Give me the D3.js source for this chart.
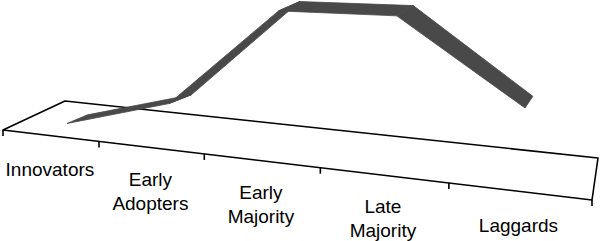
<!DOCTYPE html>
<html>
<head>
<meta charset="utf-8">
<script src="https://cdn.jsdelivr.net/npm/d3@7"></script>
<style>
  body { margin: 0; background: #fff; }
  svg { display: block; }
</style>
</head>
<body>
<div id="chart"></div>
<script>
// adoption curve drawn as a 3D ribbon on a tilted floor

const categories = ["Innovators", "Early Adopters", "Early Majority", "Late Majority", "Laggards"];
const labelLines = [["Innovators"], ["Early", "Adopters"], ["Early", "Majority"], ["Late", "Majority"], ["Laggards"]];
const adoption = [1.7, 11.7, 41.2, 39.5, 17.3];

const width = 600, height = 241;

// floor corners (front-left, front-right, back-left, back-right)
const FL = [3, 130], FR = [592, 200], BL = [65, 101], BR = [598, 158];
const persp = 1.284;

const sFront = u => u / (persp + (1 - persp) * u);
const depthScale = u => persp / Math.pow(persp + (1 - persp) * u, 2);

function floorPt(u, v) {
  const s = sFront(u);
  const fx = FL[0] + (FR[0] - FL[0]) * s, fy = FL[1] + (FR[1] - FL[1]) * s;
  const bx = BL[0] + (BR[0] - BL[0]) * u, by = BL[1] + (BR[1] - BL[1]) * u;
  return [fx + (bx - fx) * v, fy + (by - fy) * v];
}

const u = d3.scaleLinear().domain([0, categories.length]).range([0, 1]);
const yVal = d3.scaleLinear().domain([0, 40]).range([0, 140]);

const svg = d3.select("#chart").append("svg")
  .attr("width", width)
  .attr("height", height);

// floor
const floor = [floorPt(0, 0), floorPt(1, 0), floorPt(1, 1), floorPt(0, 1)];
svg.append("path")
  .attr("d", d3.line()(floor) + "Z")
  .attr("fill", "#fff")
  .attr("stroke", "#000")
  .attr("stroke-width", 1.6)
  .attr("stroke-linejoin", "round");

// ticks on the front edge
svg.selectAll("line.tick")
  .data(d3.range(categories.length + 1))
  .enter().append("line")
  .attr("class", "tick")
  .attr("x1", i => floorPt(u(i), 0)[0])
  .attr("x2", i => floorPt(u(i), 0)[0])
  .attr("y1", i => floorPt(u(i), 0)[1])
  .attr("y2", i => floorPt(u(i), 0)[1] + 6)
  .attr("stroke", "#000")
  .attr("stroke-width", 1.6);

// category labels
const labels = svg.selectAll("text.cat")
  .data(categories)
  .enter().append("text")
  .attr("class", "cat")
  .attr("text-anchor", "middle")
  .style("font-family", "'Liberation Sans', Arial, sans-serif")
  .style("font-size", "19px")
  .attr("fill", "#000")
  .attr("transform", (d, i) => {
    const p = floorPt(u(i + 0.5), 0);
    const dy = labelLines[i].length > 1 ? 38 : 40.5;
    return `translate(${p[0]},${p[1] + dy})`;
  });

labels.selectAll("tspan")
  .data((d, i) => labelLines[i])
  .enter().append("tspan")
  .attr("x", 0)
  .attr("dy", (d, j) => j === 0 ? 0 : 24)
  .text(d => d);

// ribbon: front edge at depth 0.25, back edge at depth 0.55
const ribbonPt = (i, v) => {
  const uu = u(i + 0.5);
  const p = floorPt(uu, v);
  return [p[0], p[1] - yVal(adoption[i]) * depthScale(uu)];
};

const segs = d3.range(adoption.length - 1).map(i => [
  ribbonPt(i, 0.25), ribbonPt(i + 1, 0.25), ribbonPt(i + 1, 0.55), ribbonPt(i, 0.55)
]);

svg.selectAll("path.seg")
  .data(segs)
  .enter().append("path")
  .attr("class", "seg")
  .attr("d", d => d3.line()(d) + "Z")
  .attr("fill", "#494949")
  .attr("stroke", "#494949")
  .attr("stroke-width", 0.8)
  .attr("stroke-linejoin", "round");
</script>
</body>
</html>
